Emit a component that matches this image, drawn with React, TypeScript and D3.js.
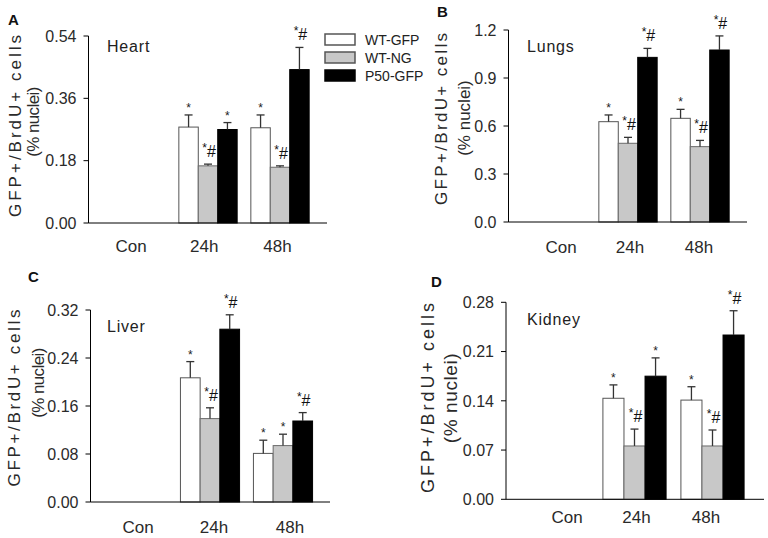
import React from "react";
import * as d3 from "d3";

const groups = ["Con", "24h", "48h"];
const seriesNames = ["WT-GFP", "WT-NG", "P50-GFP"];
const seriesFill = ["#ffffff", "#c8c8c8", "#000000"];
const seriesStroke = ["#555555", "#6a6a6a", "#000000"];

// means per series (rows) per group (cols); null = no bar
const heartMean = [[null, 0.277, 0.275], [null, 0.165, 0.161], [null, 0.27, 0.443]];
const heartErr = [[0, 0.035, 0.037], [0, 0.005, 0.004], [0, 0.02, 0.064]];
const heartMarks = [["", "*", "*"], ["", "*#", "*#"], ["", "*", "*#"]];
const heartTicks = [0, 0.18, 0.36, 0.54];

const lungsMean = [[null, 0.627, 0.648], [null, 0.492, 0.471], [null, 1.029, 1.075]];
const lungsErr = [[0, 0.042, 0.056], [0, 0.037, 0.039], [0, 0.056, 0.088]];
const lungsMarks = [["", "*", "*"], ["", "*#", "*#"], ["", "*#", "*#"]];
const lungsTicks = [0, 0.3, 0.6, 0.9, 1.2];

const liverMean = [[null, 0.207, 0.081], [null, 0.139, 0.094], [null, 0.288, 0.135]];
const liverErr = [[0, 0.027, 0.022], [0, 0.018, 0.019], [0, 0.024, 0.014]];
const liverMarks = [["", "*", "*"], ["", "*#", "*"], ["", "*#", "*#"]];
const liverTicks = [0, 0.08, 0.16, 0.24, 0.32];

const kidneyMean = [[null, 0.1436, 0.141], [null, 0.0758, 0.0758], [null, 0.175, 0.2335]];
const kidneyErr = [[0, 0.019, 0.019], [0, 0.024, 0.0227], [0, 0.026, 0.0345]];
const kidneyMarks = [["", "*", "*"], ["", "*#", "*#"], ["", "*", "*#"]];
const kidneyTicks = [0, 0.07, 0.14, 0.21, 0.28];

const yTitle1 = "GFP+/BrdU+ cells";
const yTitle2 = "(% nuclei)";

const FONT = "'Liberation Sans', Arial, sans-serif";

type PanelCfg = {
  letter: string;
  organ: string;
  mean: (number | null)[][];
  err: number[][];
  marks: string[][];
  ticks: number[];
  fmt: string;
  layout: {
    axisX: number; axisEnd: number; y0: number; yTop: number;
    c0: number; step: number;
    labelRange: [number, number]; labelY: number;
    letterX: number; letterY: number;
    organX: number; organY: number;
    t1: [number, number, number, number]; t2: [number, number, number, number];
  };
};

const panels: PanelCfg[] = [
  {
    letter: "A", organ: "Heart", mean: heartMean, err: heartErr, marks: heartMarks, ticks: heartTicks, fmt: ".2f",
    layout: { axisX: 88.5, axisEnd: 327, y0: 223, yTop: 36, c0: 136, step: 72, labelRange: [131, 277.5], labelY: 252,
      letterX: 8, letterY: 25, organX: 107, organY: 52, t1: [15, 126, 182, 17], t2: [33, 122, -0.6, 17] },
  },
  {
    letter: "B", organ: "Lungs", mean: lungsMean, err: lungsErr, marks: lungsMarks, ticks: lungsTicks, fmt: ".1f",
    layout: { axisX: 508.5, axisEnd: 747, y0: 222, yTop: 30, c0: 556, step: 72, labelRange: [561, 699], labelY: 253,
      letterX: 437, letterY: 17, organX: 527, organY: 52, t1: [441, 119, 172, 17], t2: [464, 118, 0, 17] },
  },
  {
    letter: "C", organ: "Liver", mean: liverMean, err: liverErr, marks: liverMarks, ticks: liverTicks, fmt: ".2f",
    layout: { axisX: 90.5, axisEnd: 330, y0: 502, yTop: 310, c0: 137, step: 73, labelRange: [138, 290], labelY: 533,
      letterX: 28, letterY: 282, organX: 107, organY: 332, t1: [14, 398, 177, 17], t2: [38, 383, -0.6, 17] },
  },
  {
    letter: "D", organ: "Kidney", mean: kidneyMean, err: kidneyErr, marks: kidneyMarks, ticks: kidneyTicks, fmt: ".2f",
    layout: { axisX: 506, axisEnd: 764, y0: 499.3, yTop: 302.3, c0: 556.5, step: 78, labelRange: [567, 706], labelY: 523,
      letterX: 431, letterY: 287, organX: 527, organY: 325, t1: [428, 398, 190, 18], t2: [450, 398, 0.6, 19] },
  },
];

function Mark({ x, y, s }: { x: number; y: number; s: string }) {
  if (!s) return null;
  if (s === "*") {
    return (
      <text x={x} y={y - 3} textAnchor="middle" fontSize={12} fill="#222" fontFamily={FONT}>*</text>
    );
  }
  return (
    <text x={x + 1} y={y - 7} textAnchor="middle" fontFamily={FONT} fill="#111">
      <tspan fontSize={12} dy={-5}>*</tspan>
      <tspan fontSize={16} dy={5}>#</tspan>
    </text>
  );
}

function Panel({ p }: { p: PanelCfg }) {
  const L = p.layout;
  const pad = 0.19;
  const a = L.c0 - (L.step * (1 - pad)) / 2;
  const b = a + L.step * (groups.length - pad);
  const xG = d3.scaleBand<string>().domain(groups).range([a, b]).paddingInner(pad).paddingOuter(0);
  const xS = d3.scaleBand<string>().domain(seriesNames).range([0, xG.bandwidth()]);
  const y = d3.scaleLinear().domain([0, p.ticks[p.ticks.length - 1]]).range([L.y0, L.yTop]);
  const xL = d3.scalePoint<string>().domain(groups).range(L.labelRange);
  const fmt = d3.format(p.fmt);
  const bw = xS.bandwidth();

  return (
    <g>
      {seriesNames.map((sn, si) =>
        groups.map((g, gi) => {
          const v = p.mean[si][gi];
          if (v == null) return null;
          const x0 = (xG(g) as number) + (xS(sn) as number);
          return (
            <rect key={sn + g} x={x0} y={y(v)} width={bw} height={y(0) - y(v)}
              fill={seriesFill[si]} stroke={seriesStroke[si]} strokeWidth={1} />
          );
        })
      )}
      {seriesNames.map((sn, si) =>
        groups.map((g, gi) => {
          const v = p.mean[si][gi];
          if (v == null) return null;
          const cx = (xG(g) as number) + (xS(sn) as number) + bw / 2;
          const top = y(v + p.err[si][gi]);
          return (
            <g key={"e" + sn + g} stroke="#333" strokeWidth={1.3}>
              <line x1={cx} x2={cx} y1={y(v)} y2={top} />
              <line x1={cx - 4} x2={cx + 4} y1={top} y2={top} />
            </g>
          );
        })
      )}
      {seriesNames.map((sn, si) =>
        groups.map((g, gi) => {
          const v = p.mean[si][gi];
          if (v == null) return null;
          const cx = (xG(g) as number) + (xS(sn) as number) + bw / 2;
          const top = y(v + p.err[si][gi]);
          return <Mark key={"m" + sn + g} x={cx} y={top} s={p.marks[si][gi]} />;
        })
      )}
      <line x1={L.axisX} x2={L.axisX} y1={L.yTop} y2={L.y0} stroke="#000" strokeWidth={1} />
      <line x1={L.axisX} x2={L.axisEnd} y1={L.y0} y2={L.y0} stroke="#000" strokeWidth={1} />
      {p.ticks.map((t) => (
        <g key={"t" + t}>
          <line x1={L.axisX - 5} x2={L.axisX} y1={y(t)} y2={y(t)} stroke="#000" strokeWidth={1} />
          <text x={L.axisX - 12} y={y(t)} dy="0.36em" textAnchor="end" fontSize={16} fill="#2a2a2a" fontFamily={FONT}>
            {fmt(t)}
          </text>
        </g>
      ))}
      {groups.map((g) => (
        <text key={"l" + g} x={xL(g)} y={L.labelY} textAnchor="middle" fontSize={17} fill="#2a2a2a" fontFamily={FONT}>
          {g}
        </text>
      ))}
      <text x={L.letterX} y={L.letterY} fontSize={15} fontWeight="bold" fill="#111" fontFamily={FONT}>{p.letter}</text>
      <text x={L.organX} y={L.organY} fontSize={16} letterSpacing={0.8} fill="#222" fontFamily={FONT}>{p.organ}</text>
      <text transform={`translate(${L.t1[0]},${L.t1[1]}) rotate(-90)`} textAnchor="middle" dy="0.35em"
        fontSize={L.t1[3]} fill="#2a2a2a" fontFamily={FONT} textLength={L.t1[2]} lengthAdjust="spacing">{yTitle1}</text>
      <text transform={`translate(${L.t2[0]},${L.t2[1]}) rotate(-90)`} textAnchor="middle" dy="0.35em"
        fontSize={L.t2[3]} fill="#2a2a2a" fontFamily={FONT} letterSpacing={L.t2[2]}>{yTitle2}</text>
    </g>
  );
}

function Legend() {
  const rowY = [34, 52, 70];
  return (
    <g>
      {seriesNames.map((s, i) => (
        <g key={s}>
          <rect x={325} y={rowY[i]} width={30} height={11} fill={seriesFill[i]} stroke={i === 2 ? "#000" : "#555"} strokeWidth={1.5} />
          <text x={365} y={rowY[i] + 5.5} dy="0.36em" fontSize={14} fill="#222" fontFamily={FONT}>{s}</text>
        </g>
      ))}
    </g>
  );
}

export default function App() {
  return (
    <svg width={768} height={538} style={{ position: "absolute", left: 0, top: 0, background: "#fff" }}>
      <rect x={0} y={0} width={768} height={538} fill="#fff" />
      {panels.map((p) => (
        <Panel key={p.letter} p={p} />
      ))}
      <Legend />
    </svg>
  );
}
